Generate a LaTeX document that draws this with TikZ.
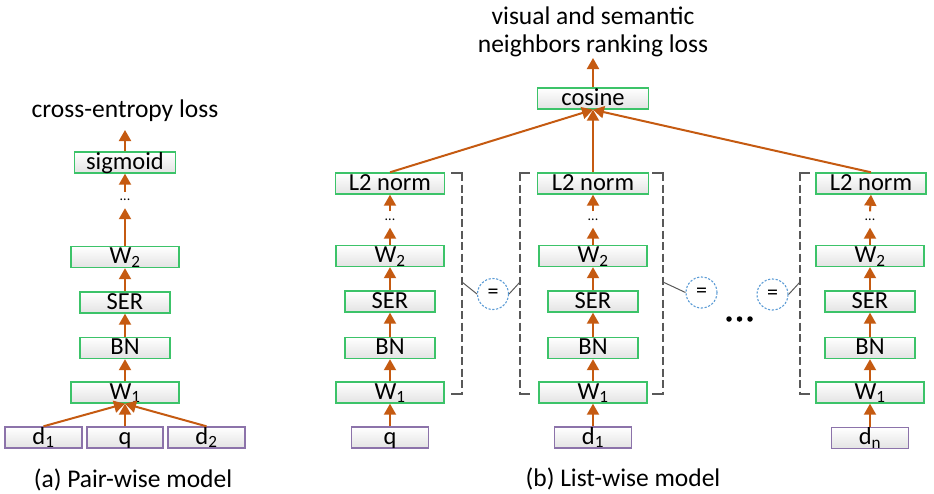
\documentclass[tikz,border=0pt]{standalone}
\usepackage{fontspec}
\setmainfont{Carlito}
\usetikzlibrary{arrows.meta}
\definecolor{boxgreen}{RGB}{60,195,105}
\definecolor{inpurple}{RGB}{140,115,170}
\definecolor{arr}{RGB}{197,90,17}
\definecolor{brk}{RGB}{89,89,89}
\definecolor{eqblue}{RGB}{91,155,213}
\begin{document}
\begin{tikzpicture}[x=1pt,y=-1pt,
  lay/.style={draw=boxgreen, line width=1.4pt, top color=white, bottom color=black!11,
    inner xsep=0pt, inner ysep=0pt, minimum height=21pt, text height=17pt, text depth=4pt,
    font=\fontsize{24.5}{26}\selectfont},
  inp/.style={lay, draw=inpurple},
  ar/.style={draw=arr, line width=2pt, -{Triangle[length=11pt,width=12pt]}},
  dotsn/.style={inner sep=0pt, minimum height=16pt, minimum width=10pt, font=\fontsize{14}{15}\selectfont},
  lbl/.style={inner sep=0pt, font=\fontsize{25.5}{28}\selectfont},
  brack/.style={draw=brk, line width=1.3pt, dash pattern=on 8pt off 3.5pt},
  tick/.style={draw=brk, line width=1.3pt},
  eqc/.style={circle, draw=eqblue, line width=1.1pt, dash pattern=on 2.2pt off 1.6pt, minimum size=31pt, inner sep=0pt, font=\fontsize{22}{24}\selectfont},
  eql/.style={draw=brk, line width=1pt},
  bigdot/.style={circle, fill=black, inner sep=0pt, minimum size=5.5pt}
]
\useasboundingbox (0,0) rectangle (934,493);

% ---------------- (a) pair-wise model ----------------
\node[lay, minimum width=101pt] (sig) at (125,162.5) {sigmoid};
\node[dotsn] (dA) at (125,200) {...};
\node[lay, minimum width=108pt] (W2a) at (125,257) {W\textsubscript{2}};
\node[lay, minimum width=90pt] (SERa) at (125,302.5) {SER};
\node[lay, minimum width=90pt] (BNa) at (125,348) {BN};
\node[lay, minimum width=108pt] (W1a) at (125,392.5) {W\textsubscript{1}};
\node[inp, minimum width=77pt] (d1a) at (43.5,437.5) {d\textsubscript{1}};
\node[inp, minimum width=76pt] (qa) at (125,437.5) {q};
\node[inp, minimum width=77pt] (d2a) at (206.5,437.5) {d\textsubscript{2}};
\node[lbl, anchor=base] (ce) at (125,117) {cross-entropy loss};
\coordinate (ceT) at (125,130);
\node[lbl, anchor=base] (capA) at (133,487) {(a) Pair-wise model};

\draw[ar] (d1a.north) -- (W1a.south);
\draw[ar] (qa.north) -- (W1a.south);
\draw[ar] (d2a.north) -- (W1a.south);
\draw[ar] (W1a.north) -- (BNa.south);
\draw[ar] (BNa.north) -- (SERa.south);
\draw[ar] (SERa.north) -- (W2a.south);
\draw[ar] (W2a.north) -- (dA.south);
\draw[ar] (dA.north) -- (sig.south);
\draw[ar] (sig.north) -- (ceT);

% ---------------- (b) list-wise model ----------------
\node[lay, minimum width=111pt] (cos) at (593,98.5) {cosine};
\node[lbl, anchor=south, align=center] (title) at (593,57) {visual and semantic\\neighbors ranking loss};
\coordinate (tT) at (593,58);
\draw[ar] (cos.north) -- (tT);

% column 1 (q)
\node[lay, minimum width=109pt] (L1) at (390,183.5) {L2 norm};
\node[dotsn] (dB1) at (390,219.5) {...};
\node[lay, minimum width=108pt] (W2b1) at (390,256) {W\textsubscript{2}};
\node[lay, minimum width=90pt] (SERb1) at (390,301.5) {SER};
\node[lay, minimum width=90pt] (BNb1) at (390,348) {BN};
\node[lay, minimum width=108pt] (W1b1) at (390,392.5) {W\textsubscript{1}};
\node[inp, minimum width=77pt] (in1) at (390,437.5) {q};

% column 2 (d1)
\node[lay, minimum width=111pt] (L2) at (593,183.5) {L2 norm};
\node[dotsn] (dB2) at (593,219.5) {...};
\node[lay, minimum width=108pt] (W2b2) at (593,256) {W\textsubscript{2}};
\node[lay, minimum width=90pt] (SERb2) at (593,301.5) {SER};
\node[lay, minimum width=90pt] (BNb2) at (593,348) {BN};
\node[lay, minimum width=108pt] (W1b2) at (593,392.5) {W\textsubscript{1}};
\node[inp, minimum width=77pt] (in2) at (593,437.5) {d\textsubscript{1}};

% column 3 (dn)
\node[lay, minimum width=110pt] (L3) at (871,183.5) {L2 norm};
\node[dotsn] (dB3) at (870,219.5) {...};
\node[lay, minimum width=108pt] (W2b3) at (870,256) {W\textsubscript{2}};
\node[lay, minimum width=90pt] (SERb3) at (870,301.5) {SER};
\node[lay, minimum width=90pt] (BNb3) at (870,348) {BN};
\node[lay, minimum width=108pt] (W1b3) at (870,392.5) {W\textsubscript{1}};
\node[inp, minimum width=77pt] (in3) at (870,438) {d\textsubscript{n}};

\foreach \c in {1,2,3}{
  \draw[ar] (in\c.north) -- (W1b\c.south);
  \draw[ar] (W1b\c.north) -- (BNb\c.south);
  \draw[ar] (BNb\c.north) -- (SERb\c.south);
  \draw[ar] (SERb\c.north) -- (W2b\c.south);
  \draw[ar] (W2b\c.north) -- (dB\c.south);
  \draw[ar] (dB\c.north) -- (L\c.south);
  \draw[ar] (L\c.north) -- (cos.south);
}

% dashed brackets
\draw[brack] (462,173) -- (462,394);
\draw[tick] (451,173) -- (462.65,173);
\draw[tick] (451,394) -- (462.65,394);
\draw[brack] (520,173) -- (520,394);
\draw[tick] (519.35,173) -- (530,173);
\draw[tick] (519.35,394) -- (530,394);
\draw[brack] (663,173) -- (663,394);
\draw[tick] (652,173) -- (663.65,173);
\draw[tick] (652,394) -- (663.65,394);
\draw[brack] (800,173) -- (800,394);
\draw[tick] (799.35,173) -- (810,173);
\draw[tick] (799.35,394) -- (810,394);
\coordinate (b1) at (462,282);
\coordinate (b2) at (520,282);
\coordinate (b3) at (663,282);
\coordinate (b4) at (800,282);

% equality circles
\node[eqc] (e1) at (493,294) {=};
\node[eqc] (e2) at (701.5,292.5) {=};
\node[eqc] (e3) at (772.5,294.5) {=};
\draw[eql] (b1) -- (e1.west);
\draw[eql] (e1.east) -- (b2);
\draw[eql] (b3) -- (e2.west);
\draw[eql] (e3.east) -- (b4);

% ellipsis between columns
\node[bigdot] (k1) at (729,319) {};
\node[bigdot] (k2) at (739.5,319) {};
\node[bigdot] (k3) at (750,319) {};

\node[lbl, anchor=base] (capB) at (623,486) {(b) List-wise model};
\end{tikzpicture}
\end{document}
